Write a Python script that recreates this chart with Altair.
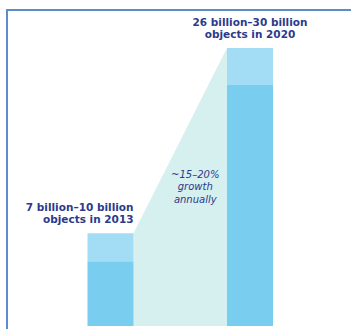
import altair as alt
import pandas as pd

# ---- data ----
years = [2013, 2020]
low_values = [7, 26]      # billion objects (lower bound)
high_values = [10, 30]    # billion objects (upper bound)
bar_labels = ["7 billion\u201310 billion\nobjects in 2013",
              "26 billion\u201330 billion\nobjects in 2020"]
growth_text = "~15\u201320%\ngrowth\nannually"

df = pd.DataFrame({"year": years, "low": low_values, "high": high_values, "label": bar_labels})
growth_df = pd.DataFrame({"year": [sum(years) / 2], "value": [16], "text": [growth_text]})

H = 1.155  # half bar width, in years
NAVY = "#2C3A8C"

x_scale = alt.Scale(domain=[2007.455, 2025.068], nice=False, zero=False)
y_scale = alt.Scale(domain=[0, 35.18], nice=False, zero=False)

base = alt.Chart(df)

area = base.transform_calculate(
    xa=f"datum.year == {years[0]} ? datum.year + {H} : datum.year - {H}"
).mark_area(color="#D6EFEF", opacity=1, interpolate="linear").encode(
    x=alt.X("xa:Q", scale=x_scale, axis=None),
    y=alt.Y("high:Q", scale=y_scale, axis=None),
    y2=alt.datum(0),
)

bars_base = base.transform_calculate(
    x0=f"datum.year - {H}", x1=f"datum.year + {H}"
)

dark = bars_base.mark_rect(color="#79CDEF").encode(
    x=alt.X("x0:Q", scale=x_scale, axis=None),
    x2="x1:Q",
    y=alt.Y("low:Q", scale=y_scale, axis=None),
    y2=alt.datum(0),
)

light = bars_base.mark_rect(color="#A2DDF5").encode(
    x=alt.X("x0:Q", scale=x_scale, axis=None),
    x2="x1:Q",
    y=alt.Y("high:Q", scale=y_scale, axis=None),
    y2="low:Q",
)

label_left = base.transform_filter(f"datum.year == {years[0]}").transform_calculate(
    xl=f"datum.year + {H}"
).mark_text(
    align="right", baseline="alphabetic", dy=-22.5, lineBreak="\n", lineHeight=12.5,
    font="DejaVu Sans", fontWeight="bold", fontSize=10.5, color=NAVY
).encode(
    x=alt.X("xl:Q", scale=x_scale, axis=None),
    y=alt.Y("high:Q", scale=y_scale, axis=None),
    text="label:N",
)

label_right = base.transform_filter(f"datum.year == {years[1]}").mark_text(
    align="center", baseline="alphabetic", dy=-22.5, lineBreak="\n", lineHeight=12.5,
    font="DejaVu Sans", fontWeight="bold", fontSize=10.5, color=NAVY
).encode(
    x=alt.X("year:Q", scale=x_scale, axis=None),
    y=alt.Y("high:Q", scale=y_scale, axis=None),
    text="label:N",
)

growth = alt.Chart(growth_df).mark_text(
    align="center", baseline="alphabetic", dx=15, lineBreak="\n", lineHeight=12.5,
    font="DejaVu Sans", fontStyle="italic", fontSize=10, color=NAVY
).encode(
    x=alt.X("year:Q", scale=x_scale, axis=None),
    y=alt.Y("value:Q", scale=y_scale, axis=None),
    text="text:N",
)

frame_top = alt.Chart(df).mark_rule(color="#5B8DCB", strokeWidth=2).encode(
    x=alt.value(6), x2=alt.value(351), y=alt.value(10)
)
frame_left = alt.Chart(df).mark_rule(color="#5B8DCB", strokeWidth=2).encode(
    x=alt.value(7), y=alt.value(9), y2=alt.value(329)
)

chart = alt.layer(
    area, dark, light, label_left, label_right, growth, frame_top, frame_left
).properties(
    width=351, height=326,
    padding={"left": 0, "top": 0, "right": 0, "bottom": 3},
    autosize=alt.AutoSizeParams(type="none"),
    background="white",
).configure_view(strokeWidth=0)

chart.save("out.html", embed_options={"renderer": "svg", "actions": False})
